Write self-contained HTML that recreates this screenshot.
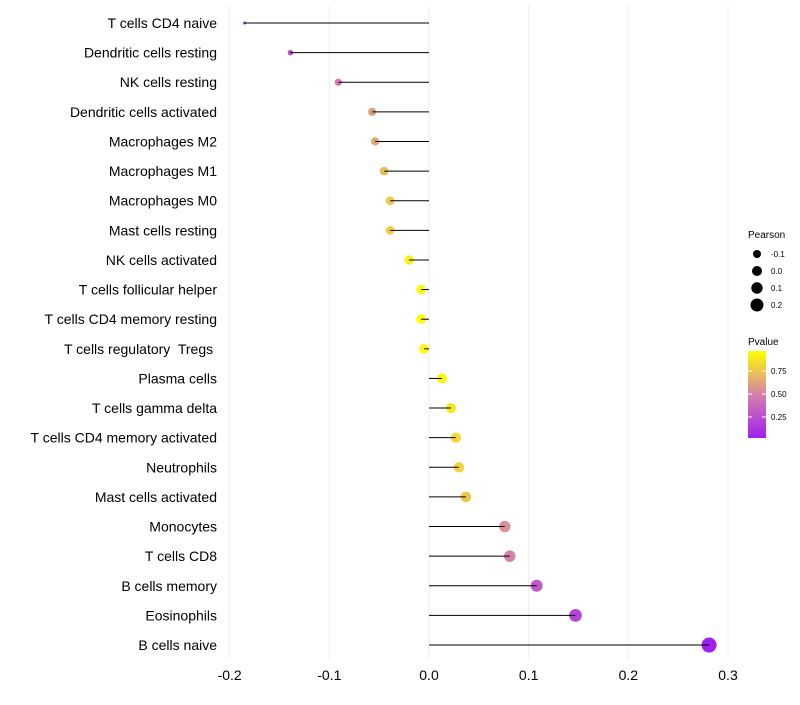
<!DOCTYPE html>
<html><head><meta charset="utf-8"><style>
body{margin:0;background:#fff;font-family:"Liberation Sans",sans-serif;}
text{white-space:pre;}
</style></head><body>
<svg id="chart" width="800" height="700" xmlns="http://www.w3.org/2000/svg"></svg>
<script>
const categories=["T cells CD4 naive","Dendritic cells resting","NK cells resting","Dendritic cells activated","Macrophages M2","Macrophages M1","Macrophages M0","Mast cells resting","NK cells activated","T cells follicular helper","T cells CD4 memory resting","T cells regulatory  Tregs ","Plasma cells","T cells gamma delta","T cells CD4 memory activated","Neutrophils","Mast cells activated","Monocytes","T cells CD8","B cells memory","Eosinophils","B cells naive"];
const pearson=[-0.185,-0.139,-0.091,-0.057,-0.054,-0.045,-0.039,-0.039,-0.020,-0.008,-0.008,-0.005,0.013,0.022,0.027,0.030,0.037,0.076,0.081,0.108,0.147,0.281];
const pvalue=[0.03,0.25,0.45,0.62,0.64,0.72,0.77,0.78,0.92,0.96,0.96,0.95,0.93,0.88,0.83,0.8,0.76,0.55,0.5,0.3,0.2,0.02];
const xTicks=[-0.2,-0.1,0.0,0.1,0.2,0.3];
const xTickLabels=["-0.2","-0.1","0.0","0.1","0.2","0.3"];
const sizeLegend=[-0.1,0.0,0.1,0.2];
const colorTicks=[0.25,0.5,0.75];

const NS="http://www.w3.org/2000/svg";
const svg=document.getElementById('chart');
function el(t,a,p){const e=document.createElementNS(NS,t);for(const k in a)e.setAttribute(k,a[k]);(p||svg).appendChild(e);return e;}
const x=v=>429+v*996.7;
const y=i=>23+i*29.62;
const pmin=-0.185,pmax=0.281;
const rad=v=>Math.sqrt(2.25+(v-pmin)/(pmax-pmin)*54);
function col(p){const t=Math.max(0,Math.min(1,(p-0.02)/0.95));
 const a=[160,32,240],m=[214,128,170],b=[255,255,0];let c;
 if(t<0.5){const s=t*2;c=a.map((v,i)=>Math.round(v+(m[i]-v)*s));}else{const s=(t-0.5)*2;c=m.map((v,i)=>Math.round(v+(b[i]-v)*s));}
 return `rgb(${c.join(',')})`;}
xTicks.forEach((v,i)=>{const g=el('line',{x1:x(v),x2:x(v),y1:5,y2:660,stroke:'#efefef','stroke-width':1});
 
 const t=el('text',{x:x(v),y:680,'text-anchor':'middle','font-size':14,fill:'#000'});t.textContent=xTickLabels[i];
 });
categories.forEach((c,i)=>{
 const t=el('text',{x:217,y:y(i)+5,'text-anchor':'end','font-size':14,fill:'#000'});t.textContent=c;
 
 const d=el('circle',{cx:x(pearson[i]),cy:y(i),r:rad(pearson[i]),fill:col(pvalue[i])});
 
 const l=el('line',{x1:x(0),x2:x(pearson[i]),y1:y(i),y2:y(i),stroke:'#000','stroke-width':1});
 
});
let t=el('text',{x:748,y:238,'font-size':10});t.textContent='Pearson';

sizeLegend.forEach((v,i)=>{const cy=254+i*17;
 const c=el('circle',{cx:757,cy:cy,r:[4,5,5.7,6.5][i],fill:'#000'});
 
 const tt=el('text',{x:771,y:cy+3,'font-size':8});tt.textContent=v.toFixed(1);
 });
t=el('text',{x:748,y:345,'font-size':10});t.textContent='Pvalue';

const defs=el('defs',{});const lg=el('linearGradient',{id:'pg',x1:0,y1:1,x2:0,y2:0},defs);
[[0,'#a020f0'],[0.5,'#d680aa'],[1,'#ffff00']].forEach(s=>el('stop',{offset:s[0],'stop-color':s[1]},lg));
const bar=el('rect',{x:748,y:351,width:18,height:87,fill:'url(#pg)'});

const cy=p=>438-(p-0.02)/0.95*87;
colorTicks.forEach(p=>{el('line',{x1:748,x2:752,y1:cy(p),y2:cy(p),stroke:'#fff'});el('line',{x1:762,x2:766,y1:cy(p),y2:cy(p),stroke:'#fff'});
 const tt=el('text',{x:771,y:cy(p)+3,'font-size':8});tt.textContent=p.toFixed(2);
 });
</script>
</body></html>
